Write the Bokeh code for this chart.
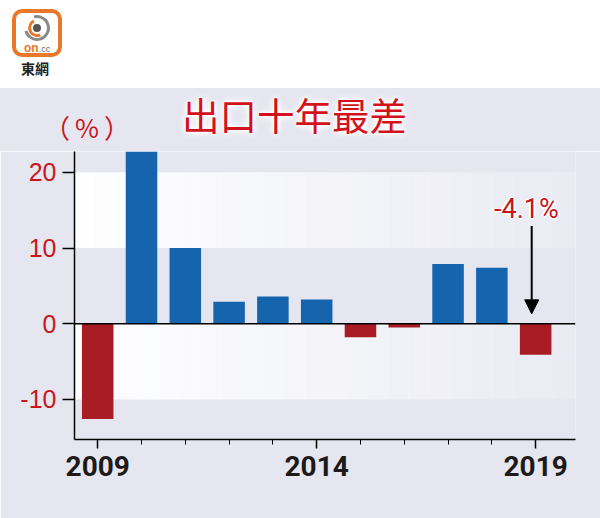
from bokeh.plotting import figure
from bokeh.layouts import column
from bokeh.models import (Range1d, FixedTicker, Span, Arrow, NormalHead, Label,
                          BoxAnnotation, Div)
from bokeh.embed import file_html
from bokeh.resources import INLINE

# ---- data ----
years = [2009, 2010, 2011, 2012, 2013, 2014, 2015, 2016, 2017, 2018, 2019]
growth = [-12.6, 22.8, 10.0, 2.9, 3.6, 3.2, -1.8, -0.5, 7.9, 7.4, -4.1]
y_ticks = [-10, 0, 10, 20]
x_major = [2009, 2014, 2019]
title_text = "出口十年最差"
unit_text = "（%）"
note_text = "-4.1%"
brand_text = "東網"

BG = "#e5e6f0"
RED_TXT = "#c8161d"
BLUE = "#1565ae"
RED_BAR = "#aa1c23"
ORANGE = "#e8782a"

# ---- header (logo + title) ----
header_html = f"""
<div style="position:relative;box-sizing:border-box;width:600px;height:151px;background:{BG};overflow:hidden;margin:0;padding:0;">
  <div style="position:absolute;left:0;top:0;width:600px;height:88px;background:#ffffff;"></div>
  <div style="position:absolute;box-sizing:border-box;left:12px;top:9px;width:50px;height:48px;border:4px solid {ORANGE};border-radius:10px;background:#ffffff;"></div>
  <div style="position:absolute;box-sizing:border-box;left:24px;top:15px;width:26px;height:26px;border-radius:50%;border:3px solid;border-color:#8a8a8a #8a8a8a #8a8a8a transparent;transform:rotate(30deg);"></div>
  <div style="position:absolute;box-sizing:border-box;left:28px;top:19px;width:18px;height:18px;border-radius:50%;border:3px solid;border-color:transparent transparent {ORANGE} {ORANGE};transform:rotate(20deg);"></div>
  <div style="position:absolute;box-sizing:border-box;left:33px;top:24px;width:8px;height:8px;border-radius:50%;background:#555555;"></div>
  <div style="position:absolute;left:24px;top:42px;font-family:'Liberation Sans';font-weight:bold;font-size:12px;line-height:12px;color:{ORANGE};white-space:nowrap;">on<span style="font-weight:normal;font-size:9px;color:#666666;">.cc</span></div>
  <div style="position:absolute;left:21px;top:61px;font-family:'Noto Sans CJK TC';font-weight:bold;font-size:14px;line-height:14px;color:#222222;white-space:nowrap;">{brand_text}</div>
  <div style="position:absolute;left:182px;top:95px;font-family:'Noto Sans CJK TC';font-size:37.5px;line-height:37.5px;color:#d2121c;white-space:nowrap;text-shadow:0 0 2px #fff,0 0 3px #fff,0 0 5px #fff,0 0 7px #fff,0 0 9px #fff;">{title_text}</div>
  <div style="position:absolute;left:44px;top:114px;font-family:'Noto Sans CJK TC';font-size:26px;line-height:26px;letter-spacing:5px;color:{RED_TXT};white-space:nowrap;">{unit_text}</div>
</div>
"""
header = Div(text=header_html, width=600, height=151, margin=0,
             styles={"padding": "0", "margin": "0"})

# ---- main chart ----
x0, x1 = 2008.47, 2019.91
y0, y1 = -15.3, 22.75
p = figure(width=600, height=367, x_range=Range1d(x0, x1), y_range=Range1d(y0, y1),
           output_backend="svg", toolbar_location=None,
           min_border_left=74, min_border_right=25, min_border_top=0,
           min_border_bottom=79, outline_line_color=None,
           background_fill_color=BG, border_fill_color=BG)
p.grid.visible = False

# light bands (white fading to the right)
n = 24
dx = (x1 - x0) / n
for lo, hi in [(y_ticks[2], y_ticks[3]), (y_ticks[0], y_ticks[1])]:
    for i in range(n):
        a = 0.95 - 0.72 * i / (n - 1)
        p.add_layout(BoxAnnotation(left=x0 + i * dx, right=x0 + (i + 1) * dx + 0.01,
                                   bottom=lo, top=hi, fill_color="white",
                                   fill_alpha=a, line_alpha=0, level="underlay"))

colors = [BLUE if v >= 0 else RED_BAR for v in growth]
p.vbar(x=years, top=growth, width=0.72, fill_color=colors, line_color=None)

p.add_layout(Span(location=0, dimension="width", line_color="black", line_width=1.5))

# axes styling
yax = p.yaxis[0]
yax.ticker = FixedTicker(ticks=y_ticks)
yax.major_label_overrides = {t: str(t) for t in y_ticks}
yax.major_label_text_color = RED_TXT
yax.major_label_text_font = "Liberation Sans"
yax.major_label_text_font_size = "25px"
yax.major_tick_out = 12
yax.major_tick_in = 0
yax.minor_tick_out = 0
yax.minor_tick_in = 0
yax.major_label_standoff = 6
yax.axis_line_width = 1.5
yax.major_tick_line_width = 1.5

xax = p.xaxis[0]
xax.ticker = FixedTicker(ticks=x_major, minor_ticks=years)
xax.major_label_text_font = "Roboto"
xax.major_label_text_font_style = "bold"
xax.major_label_text_font_size = "28px"
xax.major_label_text_color = "#1e1a1a"
xax.major_tick_out = 9
xax.major_tick_in = 0
xax.minor_tick_out = 5
xax.minor_tick_in = 0
xax.major_label_standoff = 7
xax.axis_line_width = 1.5
xax.major_tick_line_width = 1.5

# annotation for last year
ax = years[-1] - 0.09
p.add_layout(Arrow(end=NormalHead(size=14, fill_color="black", line_color="black"),
                   x_start=ax, y_start=12.9, x_end=ax, y_end=1.3,
                   line_color="black", line_width=2))
for ox, oy in [(-0.04, 0), (0.04, 0), (0, -0.25), (0, 0.25)]:
    p.add_layout(Label(x=ax - 0.12 + ox, y=15.1 + oy, text=note_text,
                       text_font="Roboto", text_font_size="27px",
                       text_color="white", text_align="center",
                       text_baseline="middle"))
p.add_layout(Label(x=ax - 0.12, y=15.1, text=note_text,
                   text_font="Roboto", text_font_size="27px",
                   text_color=RED_TXT, text_align="center", text_baseline="middle"))

layout = column(header, p, spacing=0)
open("out.html", "w").write(file_html(layout, INLINE))
